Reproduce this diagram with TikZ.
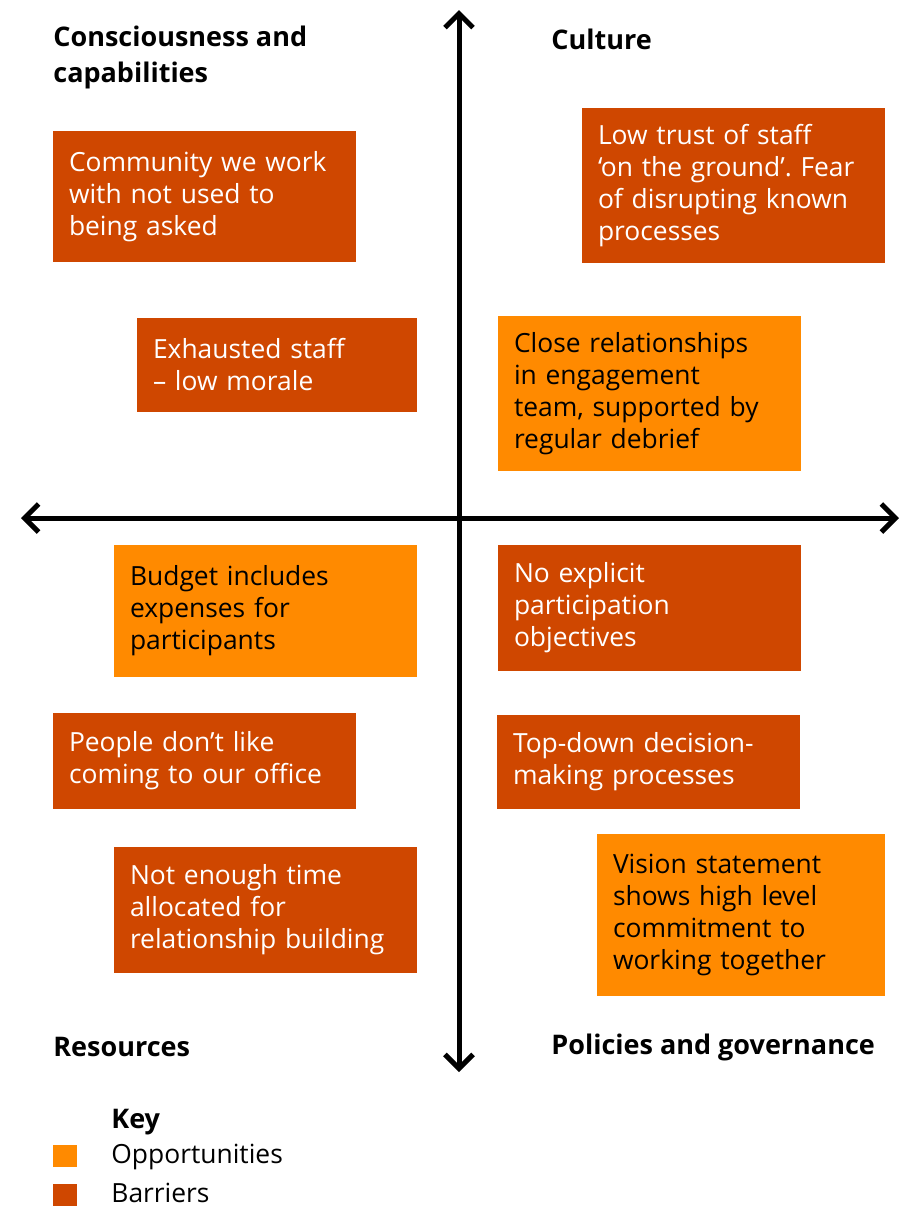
\documentclass[tikz,border=0pt]{standalone}
\usepackage{fontspec}
\setmainfont{Open Sans}
\usetikzlibrary{arrows.meta}
\frenchspacing
\definecolor{opp}{HTML}{FF8A00}
\definecolor{bar}{HTML}{CF4700}
\tikzset{
  box/.style={anchor=center, inner xsep=8pt, inner ysep=0pt, align=left,
    font=\fontsize{13.2}{16}\selectfont},
  oppbox/.style={box, fill=opp, text=black},
  barbox/.style={box, fill=bar, text=white},
  axis/.style={line width=2.5pt, {Straight Barb[length=7pt,width=14pt,line join=miter]}-{Straight Barb[length=7pt,width=14pt,line join=miter]}},
  head/.style={anchor=west, inner sep=0pt, align=left, font=\fontsize{13.5}{18}\selectfont\bfseries},
  keytxt/.style={anchor=west, inner sep=0pt, font=\fontsize{13.2}{16}\selectfont},
}
\newcommand{\bx}[6]{% style, name, x1, y1, x2, y2 ; text follows
  \node[#1, text width={((#5)-(#3))*0.5pt-16pt}, minimum height={((#6)-(#4))*0.5pt}] (#2) at ({((#3)+(#5))/2},{((#4)+(#6))/2})}
\begin{document}
\begin{tikzpicture}[x=0.5pt,y=-0.5pt]
\useasboundingbox (0,0) rectangle (902,1206);
% axes
\coordinate (top) at (459,10);
\coordinate (bot) at (459,1072);
\coordinate (lft) at (21,518);
\coordinate (rgt) at (899,518);
\draw[axis] (bot) -- (top);
\draw[axis] (lft) -- (rgt);
% headings
\node[head] (h1) at (53,57) {Consciousness and\\capabilities};
\node[head] (h2) at (551,39) {Culture};
\node[head] (h3) at (53,1047) {Resources};
\node[head] (h4) at (551,1047) {Policies and governance};
% boxes
\bx{barbox}{b1}{53}{131}{356}{262} {Community we work\\with not used to\\being asked};
\bx{barbox}{b2}{582}{108}{885}{263} {Low trust of staff\\‘on the ground’. Fear\\of disrupting known\\processes};
\bx{barbox}{b3}{137}{318}{417}{412} {Exhausted staff\\– low morale};
\bx{oppbox}{b4}{498}{316}{801}{471} {Close relationships\\in engagement\\team, supported by\\regular debrief};
\bx{oppbox}{b5}{114}{545}{417}{677} {Budget includes\\expenses for\\participants};
\bx{barbox}{b6}{498}{545}{801}{671} {No explicit\\participation\\objectives};
\bx{barbox}{b7}{53}{713}{356}{809} {People don’t like\\coming to our office};
\bx{barbox}{b8}{497}{715}{800}{809} {Top-down decision-\\making processes};
\bx{barbox}{b9}{114}{847}{417}{973} {Not enough time\\allocated for\\relationship building};
\bx{oppbox}{b10}{597}{834}{885}{996} {Vision statement\\shows high level\\commitment to\\working together};
% key
\node[head] (key) at (111,1122) {Key};
\fill[opp] (53,1145) rectangle (77,1167);
\fill[bar] (53,1184) rectangle (77,1206);
\node[keytxt] (k1) at (111,1157) {Opportunities};
\node[keytxt] (k2) at (111,1193) {Barriers};
\end{tikzpicture}
\end{document}
